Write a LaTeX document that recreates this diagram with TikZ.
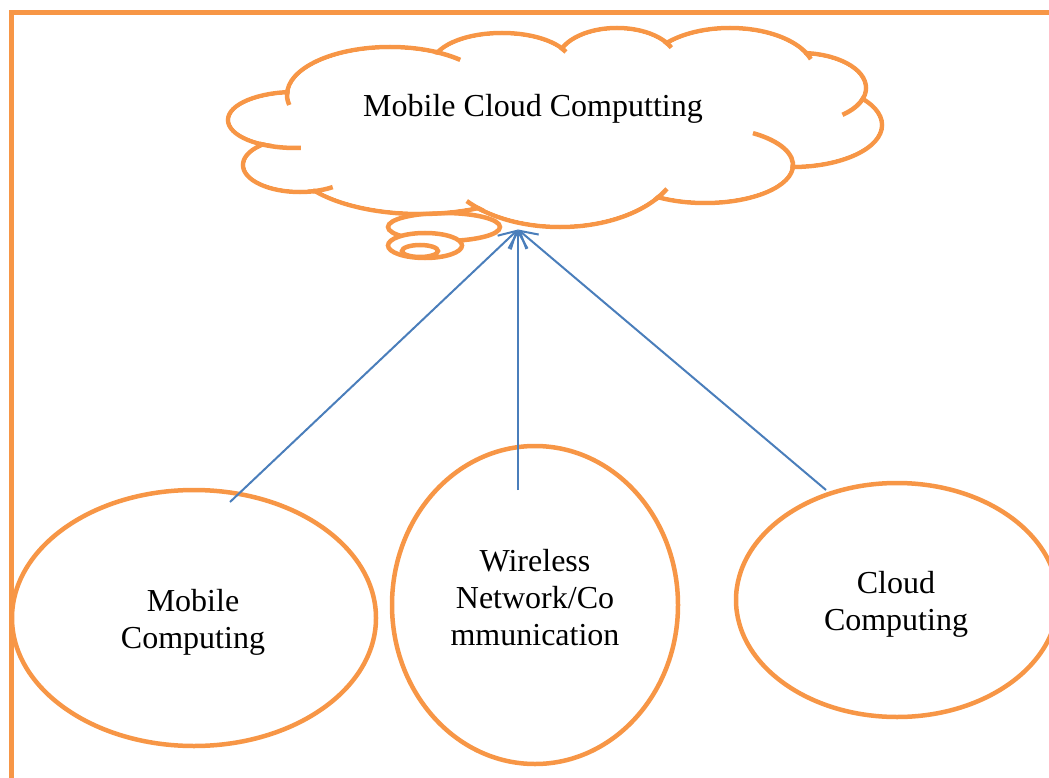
\documentclass[tikz,border=0pt]{standalone}
\usepackage{fontspec}
\setmainfont{Liberation Serif}
\usetikzlibrary{arrows.meta,shapes.geometric}
\definecolor{orng}{HTML}{F79646}
\definecolor{arrblue}{HTML}{4A7EBB}
\begin{document}
\begin{tikzpicture}[x=1pt,y=1pt,
  cl/.style={draw=orng,line width=4.5pt},
  oval/.style={ellipse,draw=orng,line width=4.5pt,fill=white,inner sep=0pt},
  lbl/.style={font=\fontsize{32}{37}\selectfont,align=center,inner sep=0pt,text=black},
  arr/.style={draw=arrblue,line width=2pt,-{Straight Barb[length=17pt,width=19pt]}},
  framestyle/.style={draw=orng,line width=5pt}]
\useasboundingbox (0,0) rectangle (1049,-778);
\clip (0,0) rectangle (1049,-778);
% frame
\draw[framestyle] (11,-790) -- (11,-12.5) -- (1060,-12.5);
% thought bubbles
\filldraw[cl,fill=white] (444,-227) ellipse [x radius=56,y radius=14];
\filldraw[cl,fill=white] (425,-245.5) ellipse [x radius=37,y radius=12.5];
\filldraw[cl,fill=white] (420,-251) ellipse [x radius=18,y radius=6];
% cloud outline: lobes
\foreach \cx/\cy/\rx/\ry in {295/120/67/28, 390/95/103/48, 502/65/70/32, 617/62/60/34, 730/73/85/45, 800/88/66/35, 792/125/90/42, 705/165/88/38, 560/157/120/70, 420/158/130/56, 300/165/57/27}
  {\draw[cl] (\cx,-\cy) ellipse [x radius=\rx,y radius=\ry];}
\foreach \cx/\cy/\rx/\ry in {295/120/67/28, 390/95/103/48, 502/65/70/32, 617/62/60/34, 730/73/85/45, 800/88/66/35, 792/125/90/42, 705/165/88/38, 560/157/120/70, 420/158/130/56, 300/165/57/27}
  {\pgfmathsetmacro\ra{\rx-2.5}\pgfmathsetmacro\rb{\ry-2.5}
   \fill[white] (\cx,-\cy) ellipse [x radius=\ra,y radius=\rb];}
\fill[white] (295,-120) -- (390,-95) -- (502,-65) -- (617,-62) -- (730,-73) -- (800,-88) -- (792,-125) -- (705,-165) -- (560,-157) -- (420,-158) -- (300,-165) -- cycle;
% inner arcs of the cloud
\foreach \cx/\cy/\rx/\ry/\a/\b in {390/95/103/48/175/192, 390/95/103/48/64/47, 502/65/70/32/33/24, 617/62/60/34/37/25, 730/73/85/45/27/18, 800/88/66/35/-18/-50, 705/165/88/38/-5/57, 560/157/120/70/-37/-27, 560/157/120/70/-130/-141, 300/165/57/27/283/305, 295/120/67/28/238/275}
  {\draw[cl] (\cx,-\cy) ++(\a:\rx pt and \ry pt) arc[start angle=\a,end angle=\b,x radius=\rx pt,y radius=\ry pt];}
\node[lbl,anchor=base] (cloudtxt) at (533,-116.7) {Mobile Cloud Computting};
% bottom ellipses
\node[oval,minimum width=364pt,minimum height=256pt] (mc) at (194,-618) {};
\node[oval,minimum width=286pt,minimum height=318pt] (wn) at (535,-605) {};
\node[oval,minimum width=322pt,minimum height=234pt] (cc) at (897,-600) {};
\node[lbl] (mctxt) at (193,-622) {Mobile\\Computing};
\node[lbl] (wntxt) at (535,-598) {Wireless\\Network/Co\\mmunication};
\node[lbl] (cctxt) at (896,-604) {Cloud\\Computing};
% arrows
\coordinate (tip) at (518,-229.5);
\coordinate (s1) at (230,-502);
\coordinate (s2) at (518,-490);
\coordinate (s3) at (826,-490);
\draw[arr] (s1) -- (tip);
\draw[arr] (s2) -- (tip);
\draw[arr] (s3) -- (tip);
\end{tikzpicture}
\end{document}
